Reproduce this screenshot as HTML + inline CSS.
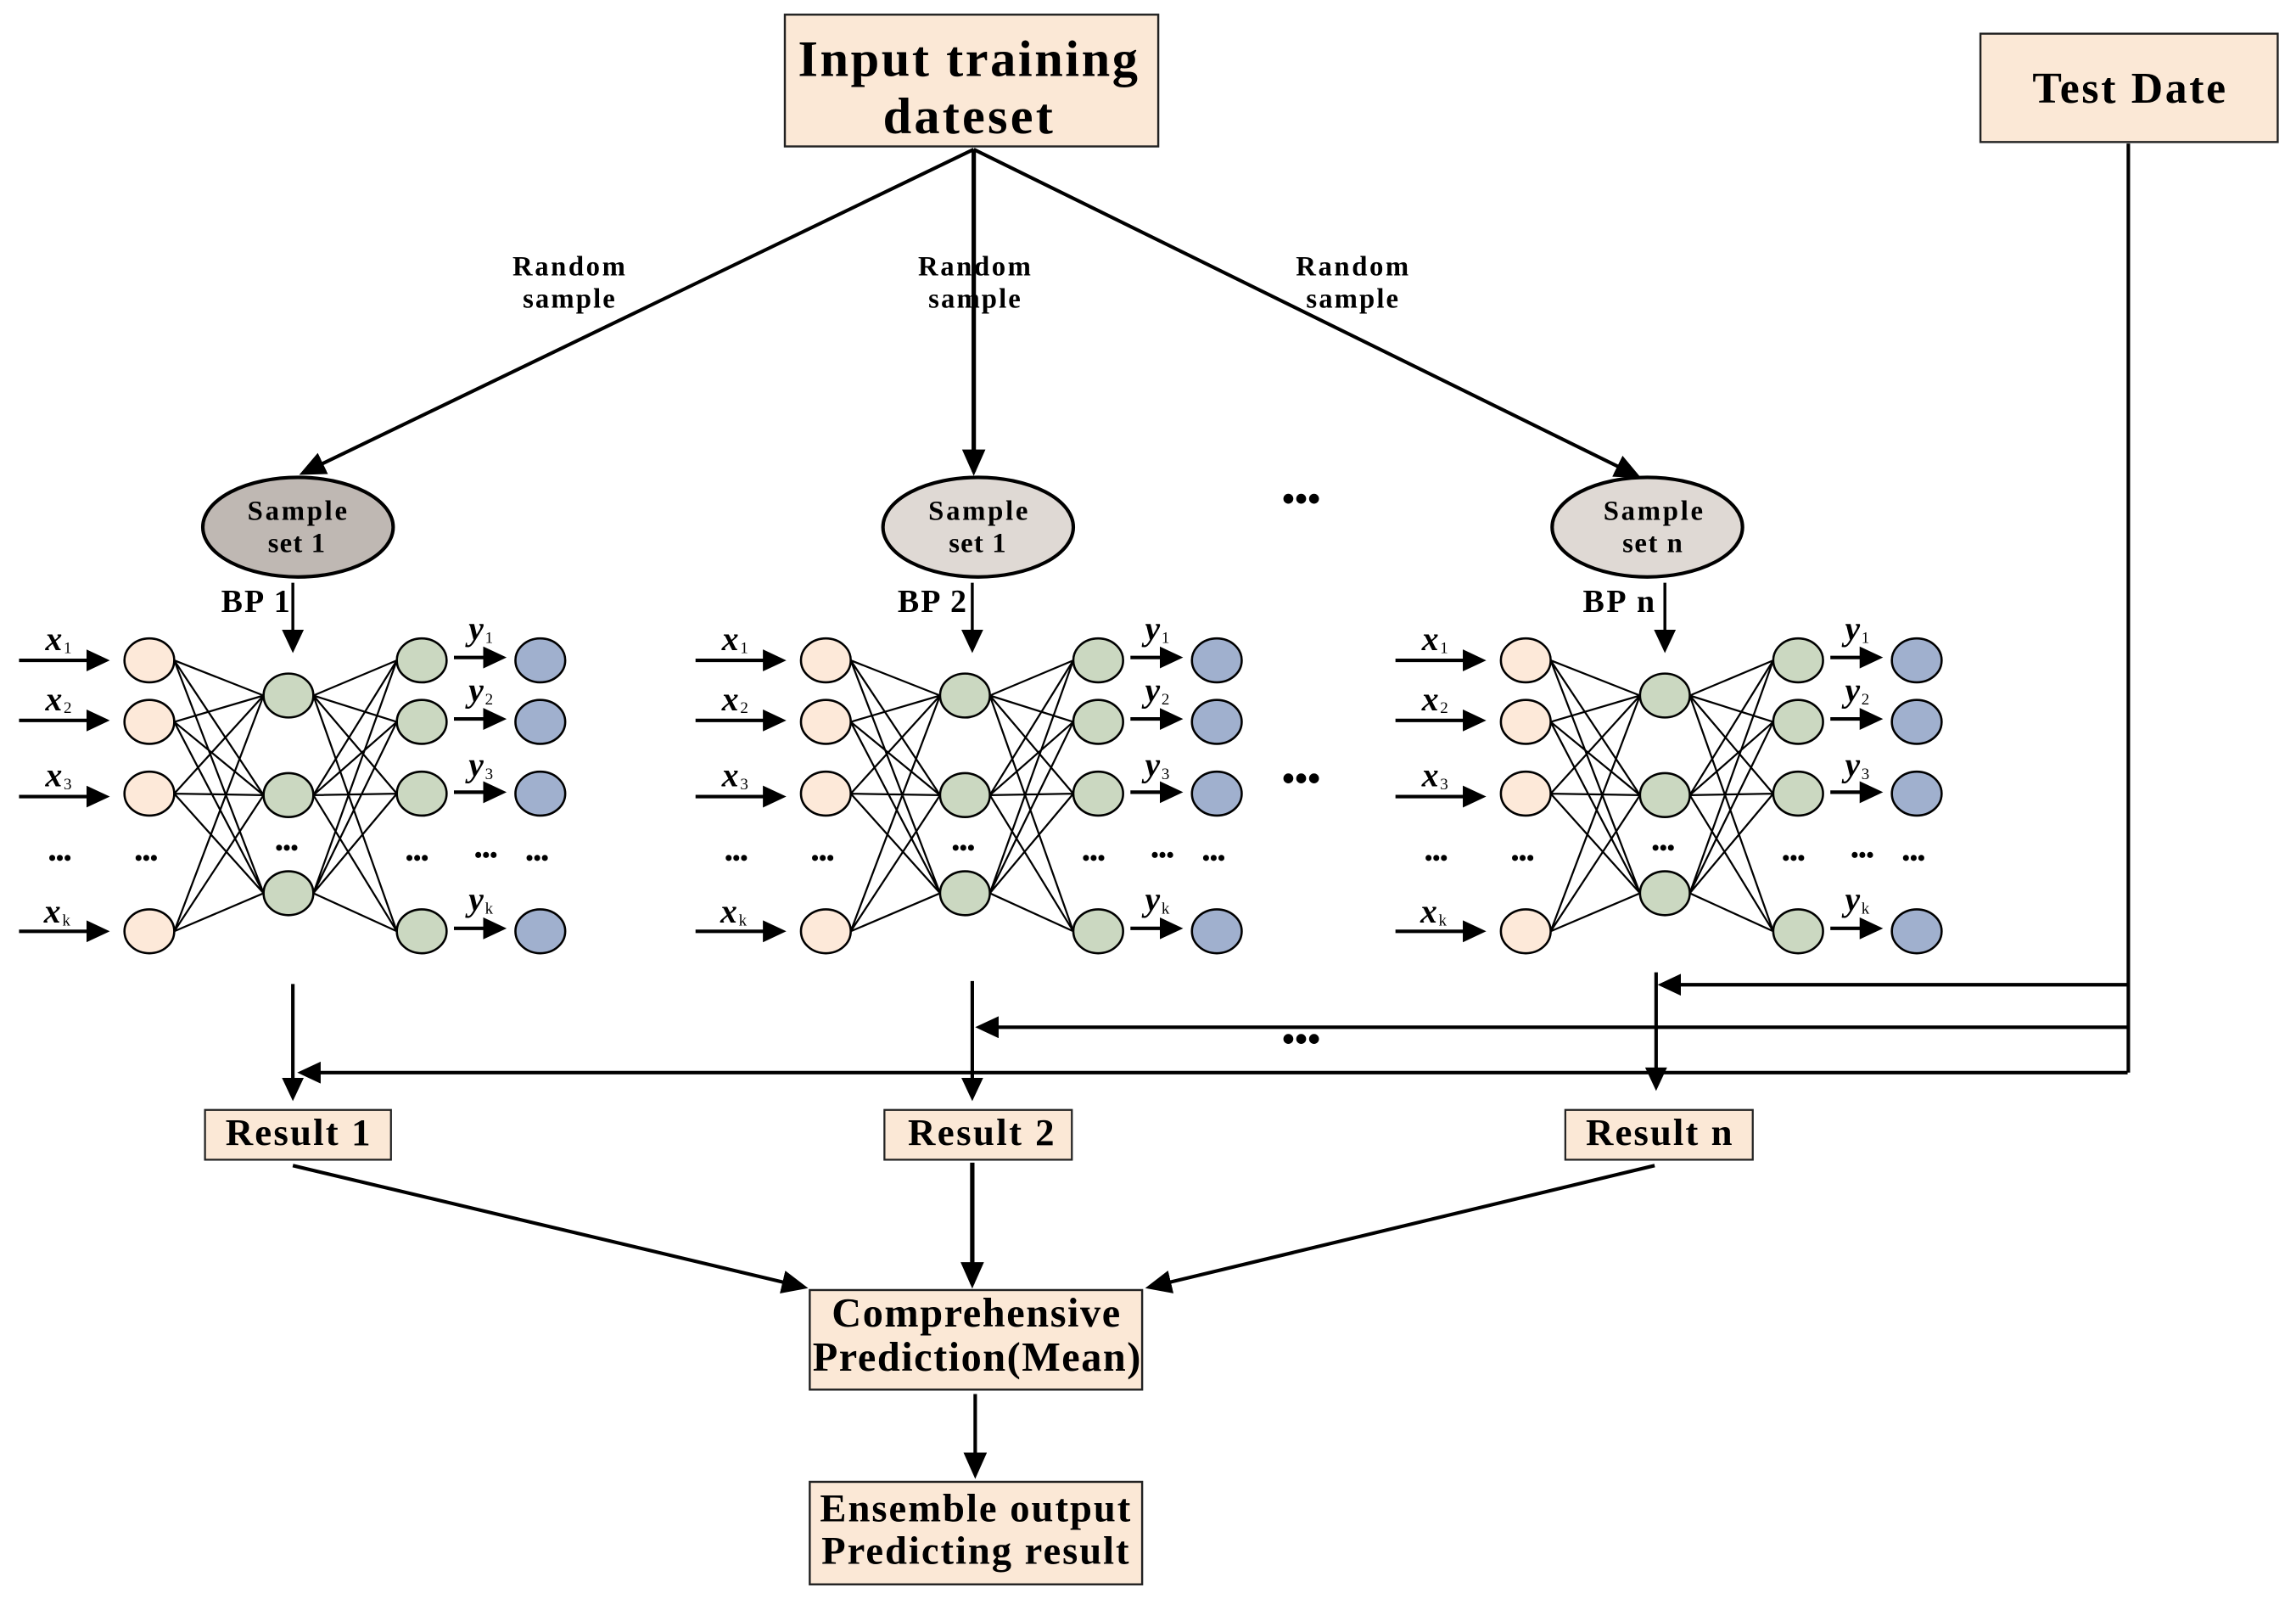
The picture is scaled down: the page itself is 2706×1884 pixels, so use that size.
<!DOCTYPE html>
<html><head><meta charset="utf-8"><title>Bagging BP ensemble</title>
<style>
html,body{margin:0;padding:0;background:#fff}
svg{display:block}
text{font-family:"Liberation Serif",serif;font-weight:bold;fill:#000}
.l{font-style:italic;font-size:23px}
.sub{font-style:normal;font-weight:normal;font-size:11px}
.d{font-size:15px}
</style></head><body>
<svg xmlns="http://www.w3.org/2000/svg" width="2706" height="1884" viewBox="0 0 1568 1092" preserveAspectRatio="none">
<defs>
<marker id="a" markerUnits="userSpaceOnUse" markerWidth="20" markerHeight="18" refX="15" refY="8" orient="auto"><path d="M0 0L18 8L0 16z" fill="#000"/></marker>
<marker id="b" markerUnits="userSpaceOnUse" markerWidth="18" markerHeight="16" refX="13" refY="7.5" orient="auto"><path d="M0 0L16 7.5L0 15z" fill="#000"/></marker>
<g id="net">
<path fill="none" stroke="#000" stroke-width="1.3" d="M119 451L180 475M119 451L180 543M119 451L180 610M119 493L180 475M119 493L180 543M119 493L180 610M119 542L180 475M119 542L180 543M119 542L180 610M119 636L180 475M119 636L180 543M119 636L180 610M214 475L271 451M214 475L271 493M214 475L271 542M214 475L271 636M214 543L271 451M214 543L271 493M214 543L271 542M214 543L271 636M214 610L271 451M214 610L271 493M214 610L271 542M214 610L271 636"/>
<g stroke="#000" stroke-width="1.5" fill="#fde9d9">
<ellipse cx="102" cy="451" rx="17" ry="15"/><ellipse cx="102" cy="493" rx="17" ry="15"/><ellipse cx="102" cy="542" rx="17" ry="15"/><ellipse cx="102" cy="636" rx="17" ry="15"/>
</g>
<g stroke="#000" stroke-width="1.5" fill="#cbd8c1">
<ellipse cx="197" cy="475" rx="17" ry="15"/><ellipse cx="197" cy="543" rx="17" ry="15"/><ellipse cx="197" cy="610" rx="17" ry="15"/>
<ellipse cx="288" cy="451" rx="17" ry="15"/><ellipse cx="288" cy="493" rx="17" ry="15"/><ellipse cx="288" cy="542" rx="17" ry="15"/><ellipse cx="288" cy="636" rx="17" ry="15"/>
</g>
<g stroke="#000" stroke-width="1.5" fill="#a0b0ce">
<ellipse cx="369" cy="451" rx="17" ry="15"/><ellipse cx="369" cy="493" rx="17" ry="15"/><ellipse cx="369" cy="542" rx="17" ry="15"/><ellipse cx="369" cy="636" rx="17" ry="15"/>
</g>
<g stroke="#000" stroke-width="2.4" fill="none">
<line x1="13" y1="451" x2="72" y2="451" marker-end="url(#b)"/>
<line x1="13" y1="492" x2="72" y2="492" marker-end="url(#b)"/>
<line x1="13" y1="544" x2="72" y2="544" marker-end="url(#b)"/>
<line x1="13" y1="636" x2="72" y2="636" marker-end="url(#b)"/>
<line x1="310" y1="449" x2="343" y2="449" marker-end="url(#b)"/>
<line x1="310" y1="491" x2="343" y2="491" marker-end="url(#b)"/>
<line x1="310" y1="541" x2="343" y2="541" marker-end="url(#b)"/>
<line x1="310" y1="634" x2="343" y2="634" marker-end="url(#b)"/>
</g>
</g>
</defs>

<!-- top boxes -->
<rect x="536" y="10" width="255" height="90" fill="#fbe8d6" stroke="#222" stroke-width="1.4"/>
<rect x="1352.500" y="23" width="203" height="74" fill="#fbe8d6" stroke="#222" stroke-width="1.4"/>
<text x="545" y="52" font-size="35" textLength="232" lengthAdjust="spacing">Input training</text>
<text x="603" y="91" font-size="35" textLength="116" lengthAdjust="spacing">dateset</text>
<text x="1388" y="70" font-size="30" textLength="132" lengthAdjust="spacing">Test Date</text>

<!-- top connectors -->
<g stroke="#000" stroke-width="2.4" fill="none">
<line x1="665" y1="102" x2="207" y2="323" marker-end="url(#a)"/>
<line x1="665" y1="102" x2="665" y2="322" stroke-width="3" marker-end="url(#a)"/>
<line x1="665" y1="102" x2="1118" y2="325" marker-end="url(#a)"/>
</g>

<text x="350" y="188" font-size="19" textLength="77" lengthAdjust="spacing">Random</text>
<text x="357" y="210" font-size="19" textLength="63" lengthAdjust="spacing">sample</text>
<text x="627" y="188" font-size="19" textLength="77" lengthAdjust="spacing">Random</text>
<text x="634" y="210" font-size="19" textLength="63" lengthAdjust="spacing">sample</text>
<text x="885" y="188" font-size="19" textLength="77" lengthAdjust="spacing">Random</text>
<text x="892" y="210" font-size="19" textLength="63" lengthAdjust="spacing">sample</text>

<!-- sample ellipses -->
<ellipse cx="203.500" cy="360" rx="65" ry="34" fill="#bfb8b3" stroke="#000" stroke-width="2.4"/>
<ellipse cx="668" cy="360" rx="65" ry="34" fill="#dfd9d4" stroke="#000" stroke-width="2.4"/>
<ellipse cx="1125" cy="360" rx="65" ry="34" fill="#dfd9d4" stroke="#000" stroke-width="2.4"/>
<text x="169" y="355" font-size="19" textLength="68" lengthAdjust="spacing">Sample</text>
<text x="183" y="377" font-size="19" textLength="39" lengthAdjust="spacing">set 1</text>
<text x="634" y="355" font-size="19" textLength="68" lengthAdjust="spacing">Sample</text>
<text x="648" y="377" font-size="19" textLength="39" lengthAdjust="spacing">set 1</text>
<text x="1095" y="355" font-size="19" textLength="68" lengthAdjust="spacing">Sample</text>
<text x="1108" y="377" font-size="19" textLength="41" lengthAdjust="spacing">set n</text>

<text x="151" y="418" font-size="22" textLength="47" lengthAdjust="spacing">BP 1</text>
<text x="613" y="418" font-size="22" textLength="47" lengthAdjust="spacing">BP 2</text>
<text x="1081" y="418" font-size="22" textLength="49" lengthAdjust="spacing">BP n</text>
<g stroke="#000" stroke-width="2" fill="none">
<line x1="200" y1="398" x2="200" y2="443" marker-end="url(#b)"/>
<line x1="664" y1="398" x2="664" y2="443" marker-end="url(#b)"/>
<line x1="1137" y1="398" x2="1137" y2="443" marker-end="url(#b)"/>
</g>

<!-- networks -->
<use href="#net"/>
<use href="#net" x="462"/>
<use href="#net" x="940"/>

<g>
<text class="l" x="31" y="444">x<tspan class="sub" dx="1" dy="2">1</tspan></text>
<text class="l" x="31" y="485">x<tspan class="sub" dx="1" dy="2">2</tspan></text>
<text class="l" x="31" y="537">x<tspan class="sub" dx="1" dy="2">3</tspan></text>
<text class="l" x="30" y="630">x<tspan class="sub" dx="1" dy="2">k</tspan></text>
<text class="l" x="320" y="437">y<tspan class="sub" dx="1" dy="2">1</tspan></text>
<text class="l" x="320" y="479">y<tspan class="sub" dx="1" dy="2">2</tspan></text>
<text class="l" x="320" y="530">y<tspan class="sub" dx="1" dy="2">3</tspan></text>
<text class="l" x="320" y="622">y<tspan class="sub" dx="1" dy="2">k</tspan></text>
<text class="d" x="33" y="591">•••</text>
<text class="d" x="92" y="591">•••</text>
<text class="d" x="188" y="584">•••</text>
<text class="d" x="277" y="591">•••</text>
<text class="d" x="324" y="589">•••</text>
<text class="d" x="359" y="591">•••</text>
</g>
<g transform="translate(462 0)">
<text class="l" x="31" y="444">x<tspan class="sub" dx="1" dy="2">1</tspan></text>
<text class="l" x="31" y="485">x<tspan class="sub" dx="1" dy="2">2</tspan></text>
<text class="l" x="31" y="537">x<tspan class="sub" dx="1" dy="2">3</tspan></text>
<text class="l" x="30" y="630">x<tspan class="sub" dx="1" dy="2">k</tspan></text>
<text class="l" x="320" y="437">y<tspan class="sub" dx="1" dy="2">1</tspan></text>
<text class="l" x="320" y="479">y<tspan class="sub" dx="1" dy="2">2</tspan></text>
<text class="l" x="320" y="530">y<tspan class="sub" dx="1" dy="2">3</tspan></text>
<text class="l" x="320" y="622">y<tspan class="sub" dx="1" dy="2">k</tspan></text>
<text class="d" x="33" y="591">•••</text>
<text class="d" x="92" y="591">•••</text>
<text class="d" x="188" y="584">•••</text>
<text class="d" x="277" y="591">•••</text>
<text class="d" x="324" y="589">•••</text>
<text class="d" x="359" y="591">•••</text>
</g>
<g transform="translate(940 0)">
<text class="l" x="31" y="444">x<tspan class="sub" dx="1" dy="2">1</tspan></text>
<text class="l" x="31" y="485">x<tspan class="sub" dx="1" dy="2">2</tspan></text>
<text class="l" x="31" y="537">x<tspan class="sub" dx="1" dy="2">3</tspan></text>
<text class="l" x="30" y="630">x<tspan class="sub" dx="1" dy="2">k</tspan></text>
<text class="l" x="320" y="437">y<tspan class="sub" dx="1" dy="2">1</tspan></text>
<text class="l" x="320" y="479">y<tspan class="sub" dx="1" dy="2">2</tspan></text>
<text class="l" x="320" y="530">y<tspan class="sub" dx="1" dy="2">3</tspan></text>
<text class="l" x="320" y="622">y<tspan class="sub" dx="1" dy="2">k</tspan></text>
<text class="d" x="33" y="591">•••</text>
<text class="d" x="92" y="591">•••</text>
<text class="d" x="188" y="584">•••</text>
<text class="d" x="277" y="591">•••</text>
<text class="d" x="324" y="589">•••</text>
<text class="d" x="359" y="591">•••</text>
</g>

<!-- big dots -->
<text x="875.500" y="349" font-size="25">•••</text>
<text x="875.500" y="540" font-size="25">•••</text>
<text x="875.500" y="718" font-size="25">•••</text>

<!-- test date bus -->
<g stroke="#000" stroke-width="2.4" fill="none">
<path d="M1453.500 98V732.500"/>
<line x1="1453" y1="672.500" x2="1135" y2="672.500" marker-end="url(#b)"/>
<line x1="1453" y1="701.500" x2="669" y2="701.500" marker-end="url(#b)"/>
<line x1="1453" y1="732.500" x2="206" y2="732.500" marker-end="url(#b)"/>
<line x1="200" y1="672" x2="200" y2="749" marker-end="url(#b)"/>
<line x1="664" y1="670" x2="664" y2="749" marker-end="url(#b)"/>
<line x1="1131" y1="664" x2="1131" y2="742" marker-end="url(#b)"/>
</g>

<!-- results -->
<rect x="140" y="758" width="127" height="34" fill="#fbe8d6" stroke="#222" stroke-width="1.3"/>
<rect x="604" y="758" width="128" height="34" fill="#fbe8d6" stroke="#222" stroke-width="1.3"/>
<rect x="1069" y="758" width="128" height="34" fill="#fbe8d6" stroke="#222" stroke-width="1.3"/>
<text x="154" y="782" font-size="26" textLength="99" lengthAdjust="spacing">Result 1</text>
<text x="620" y="782" font-size="26" textLength="100" lengthAdjust="spacing">Result 2</text>
<text x="1083" y="782" font-size="26" textLength="100" lengthAdjust="spacing">Result n</text>

<!-- to comprehensive -->
<g stroke="#000" stroke-width="2.4" fill="none">
<line x1="200" y1="796" x2="549" y2="879" marker-end="url(#a)"/>
<line x1="664" y1="794" x2="664" y2="877" stroke-width="3" marker-end="url(#a)"/>
<line x1="1130" y1="796" x2="785" y2="879" marker-end="url(#a)"/>
<line x1="666" y1="952" x2="666" y2="1007" marker-end="url(#a)"/>
</g>

<rect x="553" y="881" width="227" height="68" fill="#fbe8d6" stroke="#222" stroke-width="1.4"/>
<rect x="553" y="1012" width="227" height="70" fill="#fbe8d6" stroke="#222" stroke-width="1.4"/>
<text x="568" y="906" font-size="28" textLength="197" lengthAdjust="spacing">Comprehensive</text>
<text x="555" y="936" font-size="28" textLength="224" lengthAdjust="spacing">Prediction(Mean)</text>
<text x="560" y="1039" font-size="27" textLength="212" lengthAdjust="spacing">Ensemble output</text>
<text x="561" y="1068" font-size="27" textLength="210" lengthAdjust="spacing">Predicting result</text>
</svg>
</body></html>
